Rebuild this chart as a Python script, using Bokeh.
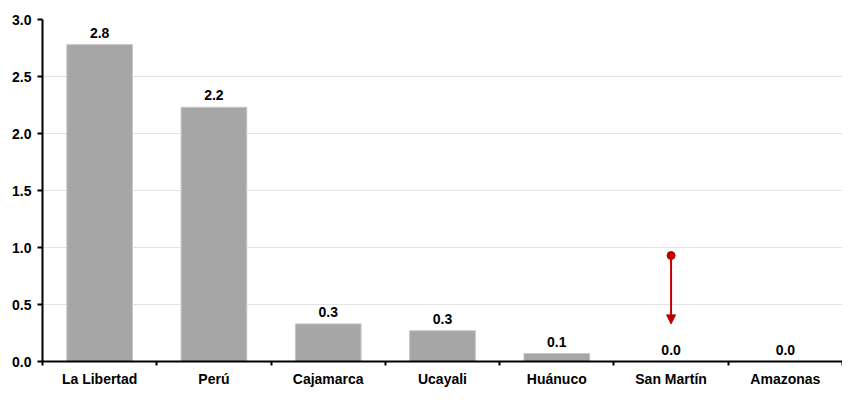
from bokeh.plotting import figure
from bokeh.models import Range1d, FixedTicker, Arrow, NormalHead, ColumnDataSource, PrintfTickFormatter
from bokeh.core.properties import value
from bokeh.embed import file_html
from bokeh.resources import INLINE

categories = ["La Libertad", "Perú", "Cajamarca", "Ucayali", "Huánuco", "San Martín", "Amazonas"]
values = [2.78, 2.23, 0.33, 0.27, 0.07, 0.0, 0.0]
y_ticks = [0.0, 0.5, 1.0, 1.5, 2.0, 2.5, 3.0]
arrow_category = "San Martín"
arrow_from = 0.93
arrow_to = 0.33

FONT = "Liberation Sans"
BAR = "#A6A6A6"
RED = "#C00000"

n = len(categories)
xs = [i + 0.5 for i in range(n)]
labels = ["{:.1f}".format(v) for v in values]
src = ColumnDataSource(dict(x=xs, top=values, label=labels))

p = figure(width=842, height=389, output_backend="svg", toolbar_location=None,
           x_range=Range1d(0, n), y_range=Range1d(0, 3.0),
           min_border_left=42, min_border_right=0, min_border_top=19, min_border_bottom=22)
p.outline_line_color = None
p.background_fill_color = "white"
p.border_fill_color = "white"

p.vbar(x="x", top="top", width=0.575, bottom=0, source=src, fill_color=BAR,
       line_color="#C8C8C8", line_width=1)
p.text(x="x", y="top", text="label", source=src, text_align="center", text_baseline="bottom",
       y_offset=-7, text_font=value(FONT), text_font_style="bold", text_font_size="14px",
       text_color="black")

ax = xs[categories.index(arrow_category)]
p.add_layout(Arrow(x_start=ax, y_start=arrow_from, x_end=ax, y_end=arrow_to,
                   line_color=RED, line_width=2,
                   end=NormalHead(size=9, fill_color=RED, line_color=RED)))
p.scatter(x=[ax], y=[arrow_from], size=8, marker="circle", fill_color=RED, line_color=RED)

# y axis
p.yaxis.ticker = FixedTicker(ticks=y_ticks)
p.yaxis.formatter = PrintfTickFormatter(format="%.1f")
p.yaxis.axis_line_color = "black"
p.yaxis.axis_line_width = 2
p.yaxis.major_tick_line_color = "black"
p.yaxis.major_tick_line_width = 2
p.yaxis.major_tick_out = 5
p.yaxis.major_tick_in = 0
p.yaxis.minor_tick_line_color = None
p.yaxis.major_label_text_font = FONT
p.yaxis.major_label_text_font_style = "bold"
p.yaxis.major_label_text_font_size = "14px"
p.yaxis.major_label_text_color = "black"
p.yaxis.major_label_standoff = 6

# x axis
p.xaxis.ticker = FixedTicker(ticks=xs, minor_ticks=list(range(n + 1)))
p.xaxis.major_label_overrides = {x: c for x, c in zip(xs, categories)}
p.xaxis.axis_line_color = "black"
p.xaxis.axis_line_width = 2
p.xaxis.major_tick_line_color = None
p.xaxis.minor_tick_line_color = "black"
p.xaxis.minor_tick_line_width = 2
p.xaxis.minor_tick_out = 4
p.xaxis.minor_tick_in = 0
p.xaxis.major_label_text_font = FONT
p.xaxis.major_label_text_font_style = "bold"
p.xaxis.major_label_text_font_size = "14px"
p.xaxis.major_label_text_color = "black"
p.xaxis.major_label_standoff = 3

p.xgrid.grid_line_color = None
p.ygrid.ticker = FixedTicker(ticks=y_ticks)
p.ygrid.grid_line_color = "#E3E3E3"
p.ygrid.grid_line_width = 1

open("out.html", "w").write(file_html(p, INLINE))
